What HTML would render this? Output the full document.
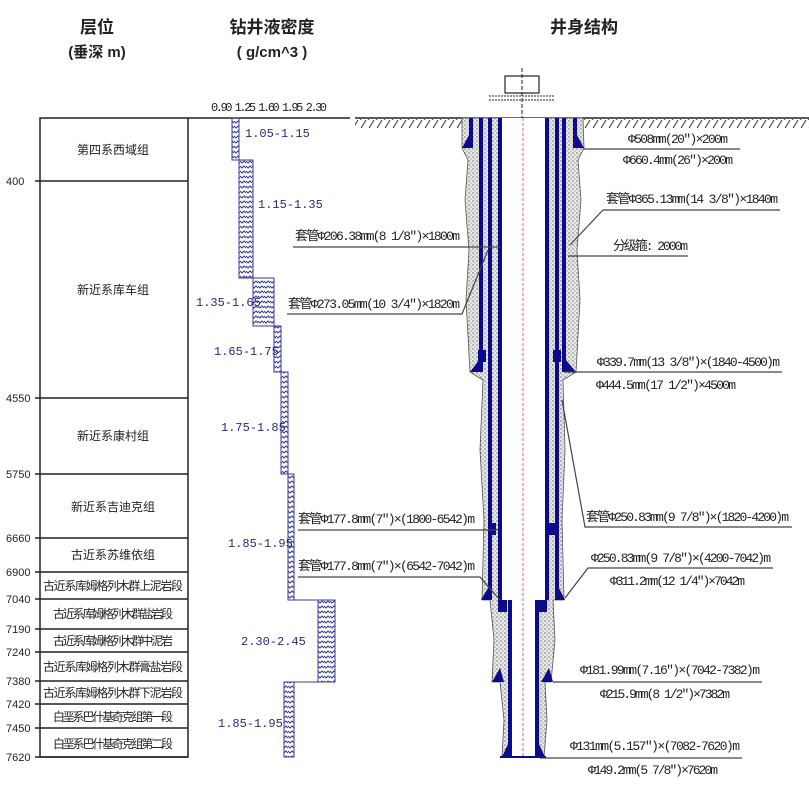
<!DOCTYPE html>
<html><head><meta charset="utf-8"><style>
html,body{margin:0;padding:0;background:#fff;}
svg{display:block;font-family:"Liberation Sans","Noto Sans CJK SC",sans-serif;}
.t{font-size:12px;fill:#222;}
.d{font-size:13px;fill:#222;font-family:"Liberation Mono","Noto Sans CJK SC",monospace;}
.b{font-size:12px;fill:#2a2a7a;font-family:"Liberation Mono",monospace;}
</style></head><body>
<svg width="809" height="797" viewBox="0 0 809 797" xmlns="http://www.w3.org/2000/svg">
<defs>
<pattern id="hat" width="6" height="5" patternUnits="userSpaceOnUse"><path d="M0 1 L2 3 L4 1 L6 3" stroke="#333380" stroke-width="1" fill="none"/></pattern>
<pattern id="dot" width="4" height="4" patternUnits="userSpaceOnUse"><rect width="4" height="4" fill="#e8e8e8"/><circle cx="1" cy="1" r="0.7" fill="#666"/><circle cx="3" cy="3" r="0.6" fill="#888"/></pattern>
<pattern id="gh" width="8" height="10" patternUnits="userSpaceOnUse"><path d="M0 10 L6 0" stroke="#333" stroke-width="1"/></pattern>
</defs>
<text x="97" y="33" text-anchor="middle" style="font-size:17px;font-weight:bold" fill="#222">层位</text>
<text x="97" y="57" text-anchor="middle" style="font-size:15px;font-weight:bold" fill="#222">(垂深 m)</text>
<text x="272" y="33" text-anchor="middle" style="font-size:17px;font-weight:bold" fill="#222">钻井液密度</text>
<text x="272" y="57" text-anchor="middle" style="font-size:15px;font-weight:bold" fill="#222">( g/cm^3 )</text>
<text x="584" y="33" text-anchor="middle" style="font-size:17px;font-weight:bold" fill="#222">井身结构</text>
<rect x="40" y="118" width="148" height="639" fill="none" stroke="#222" stroke-width="1.5"/>
<line x1="188" y1="118" x2="350" y2="118" stroke="#222" stroke-width="1.5"/>
<line x1="355" y1="118" x2="809" y2="118" stroke="#222" stroke-width="1.5"/>
<rect x="355" y="119" width="454" height="9" fill="url(#gh)"/>
<g stroke="#222" stroke-width="1.5">
<line x1="35" y1="181" x2="188" y2="181"/><line x1="35" y1="398" x2="188" y2="398"/>
<line x1="35" y1="474" x2="188" y2="474"/><line x1="35" y1="538" x2="188" y2="538"/>
<line x1="35" y1="572" x2="188" y2="572"/><line x1="35" y1="599" x2="188" y2="599"/>
<line x1="35" y1="629" x2="188" y2="629"/><line x1="35" y1="652" x2="188" y2="652"/>
<line x1="35" y1="681" x2="188" y2="681"/><line x1="35" y1="704" x2="188" y2="704"/>
<line x1="35" y1="728" x2="188" y2="728"/><line x1="35" y1="757" x2="188" y2="757"/>
</g>
<g class="t" style="font-size:11px">
<text x="6" y="185">400</text><text x="6" y="402">4550</text><text x="6" y="478">5750</text>
<text x="6" y="542">6660</text><text x="6" y="576">6900</text><text x="6" y="603">7040</text>
<text x="6" y="633">7190</text><text x="6" y="656">7240</text><text x="6" y="685">7380</text>
<text x="6" y="708">7420</text><text x="6" y="732">7450</text><text x="6" y="761">7620</text>
</g>
<g class="t" text-anchor="middle" style="font-size:12px">
<text x="113" y="154">第四系西域组</text>
<text x="113" y="294">新近系库车组</text>
<text x="113" y="440">新近系康村组</text>
<text x="113" y="511">新近系吉迪克组</text>
<text x="113" y="559">古近系苏维依组</text>
<text x="113" y="590" textLength="140">古近系库姆格列木群上泥岩段</text>
<text x="113" y="618" textLength="120">古近系库姆格列木群盐岩段</text>
<text x="113" y="645" textLength="120">古近系库姆格列木群中泥岩</text>
<text x="113" y="671" textLength="140">古近系库姆格列木群膏盐岩段</text>
<text x="113" y="697" textLength="140">古近系库姆格列木群下泥岩段</text>
<text x="113" y="721" textLength="120">白垩系巴什基奇克组第一段</text>
<text x="113" y="748" textLength="120">白垩系巴什基奇克组第二段</text>
</g>
<text x="211" y="111" class="d" style="font-size:12px" textLength="116">0.90 1.25 1.60 1.95 2.30</text>
<g fill="url(#hat)" stroke="#3a3aa0" stroke-width="1">
<rect x="232" y="118" width="7" height="42"/>
<rect x="239" y="160" width="14" height="118"/>
<rect x="253" y="278" width="21" height="48"/>
<rect x="274" y="326" width="7" height="46"/>
<rect x="281" y="372" width="7" height="102"/>
<rect x="288" y="474" width="6" height="126"/>
<rect x="318" y="600" width="17" height="82"/>
<rect x="284" y="682" width="10" height="75"/>
<path d="M294 600 H318 M284 682 H318" fill="none"/>
</g>
<g class="b">
<text x="245" y="137">1.05-1.15</text>
<text x="258" y="208">1.15-1.35</text>
<text x="196" y="306">1.35-1.65</text>
<text x="214" y="355">1.65-1.75</text>
<text x="221" y="431">1.75-1.85</text>
<text x="228" y="547">1.85-1.95</text>
<text x="241" y="645">2.30-2.45</text>
<text x="218" y="727">1.85-1.95</text>
</g>
<rect x="505" y="76" width="34" height="17" fill="#fff" stroke="#222" stroke-width="1.2"/>
<line x1="489" y1="96" x2="555" y2="96" stroke="#222" stroke-dasharray="2 1"/>
<line x1="489" y1="100" x2="555" y2="100" stroke="#222" stroke-dasharray="2 1"/>
<line x1="522" y1="68" x2="522" y2="118" stroke="#222" stroke-dasharray="4 2"/>
<g fill="url(#dot)">
<path d="M462 118 H583 L584 148 L578 160 L581 200 L577 250 L580 300 L576 372 L563 380 L565 450 L562 520 L564 600 H553 L555 640 L551 682 H545 L547 720 L544 757 H502 L504 720 L500 682 H492 L494 640 L490 600 H482 L484 520 L480 450 L483 380 L470 372 L466 300 L469 250 L465 200 L468 160 L462 148 Z" stroke="#555" stroke-width="0.8"/>
</g>
<g fill="#0c0c8a">
<rect x="469" y="118" width="4" height="30"/><rect x="573" y="118" width="4" height="30"/>
<path d="M469 135 L462 148 H473 Z"/><path d="M577 135 L584 148 H573 Z"/>
<rect x="479" y="118" width="4" height="254"/>
<path d="M479 360 L470 372 H483 Z"/><path d="M566 360 L576 372 H563 Z"/>
<rect x="562" y="118" width="4" height="254"/>
<rect x="488" y="118" width="4" height="482"/><rect x="555" y="118" width="4" height="482"/>
<path d="M488 588 L481 600 H492 Z"/><path d="M559 588 L565 600 H555 Z"/>
<rect x="498" y="118" width="4" height="482"/><rect x="545" y="118" width="4" height="482"/>
<rect x="508" y="600" width="4" height="157"/><rect x="535" y="600" width="4" height="157"/>
<path d="M500 668 L492 682 H504 Z"/><path d="M549 668 L553 682 H541 Z"/>
<path d="M508 744 L502 757 H512 Z"/><path d="M539 744 L545 757 H535 Z"/>
</g>
<rect x="502" y="118" width="43" height="482" fill="#fff"/>
<rect x="512" y="600" width="23" height="157" fill="#fff"/>
<line x1="523" y1="118" x2="523" y2="757" stroke="#e04040" stroke-width="0.8" stroke-dasharray="3 2"/>
<line x1="500" y1="757" x2="546" y2="757" stroke="#0c0c8a" stroke-width="2"/>
<g fill="#0c0c8a"><rect x="478" y="350" width="8" height="12"/><rect x="553" y="350" width="8" height="12"/>
<rect x="488" y="523" width="8" height="12"/><rect x="549" y="523" width="8" height="12"/>
<rect x="498" y="600" width="9" height="12"/><rect x="538" y="600" width="9" height="12"/></g>
<g stroke="#444" stroke-width="1.2" fill="none">
<line x1="583" y1="149" x2="740" y2="149"/>
<polyline points="570,245 603,210 780,210"/>
<line x1="568" y1="256" x2="688" y2="256"/>
<line x1="565" y1="372" x2="782" y2="372"/>
<polyline points="562,400 585,527 792,527"/>
<polyline points="565,598 588,568 773,568"/>
<line x1="553" y1="682" x2="762" y2="682"/>
<line x1="540" y1="758" x2="742" y2="758"/>
<line x1="293" y1="247" x2="500" y2="247"/>
<polyline points="287,314 462,314 488,250"/>
<line x1="298" y1="530" x2="498" y2="530"/>
<polyline points="298,577 480,577 500,600"/>
</g>
<g class="d">
<text x="628" y="143" textLength="100">Φ508mm(20")×200m</text>
<text x="623" y="164" textLength="110">Φ660.4mm(26")×200m</text>
<text x="606" y="203" textLength="172">套管Φ365.13mm(14 3/8")×1840m</text>
<text x="613" y="250" textLength="75">分级箍: 2000m</text>
<text x="597" y="366" textLength="183">Φ339.7mm(13 3/8")×(1840-4500)m</text>
<text x="596" y="389" textLength="140">Φ444.5mm(17 1/2")×4500m</text>
<text x="586" y="521" textLength="203">套管Φ250.83mm(9 7/8")×(1820-4200)m</text>
<text x="591" y="562" textLength="180">Φ250.83mm(9 7/8")×(4200-7042)m</text>
<text x="610" y="585" textLength="135">Φ311.2mm(12 1/4")×7042m</text>
<text x="580" y="674" textLength="180">Φ181.99mm(7.16")×(7042-7382)m</text>
<text x="600" y="698" textLength="130">Φ215.9mm(8 1/2")×7382m</text>
<text x="570" y="750" textLength="170">Φ131mm(5.157")×(7082-7620)m</text>
<text x="588" y="774" textLength="130">Φ149.2mm(5 7/8")×7620m</text>
<text x="295" y="240" textLength="165">套管Φ206.38mm(8 1/8")×1800m</text>
<text x="288" y="308" textLength="172">套管Φ273.05mm(10 3/4")×1820m</text>
<text x="298" y="523" textLength="177">套管Φ177.8mm(7")×(1800-6542)m</text>
<text x="298" y="570" textLength="177">套管Φ177.8mm(7")×(6542-7042)m</text>
</g>
</svg>
</body></html>
